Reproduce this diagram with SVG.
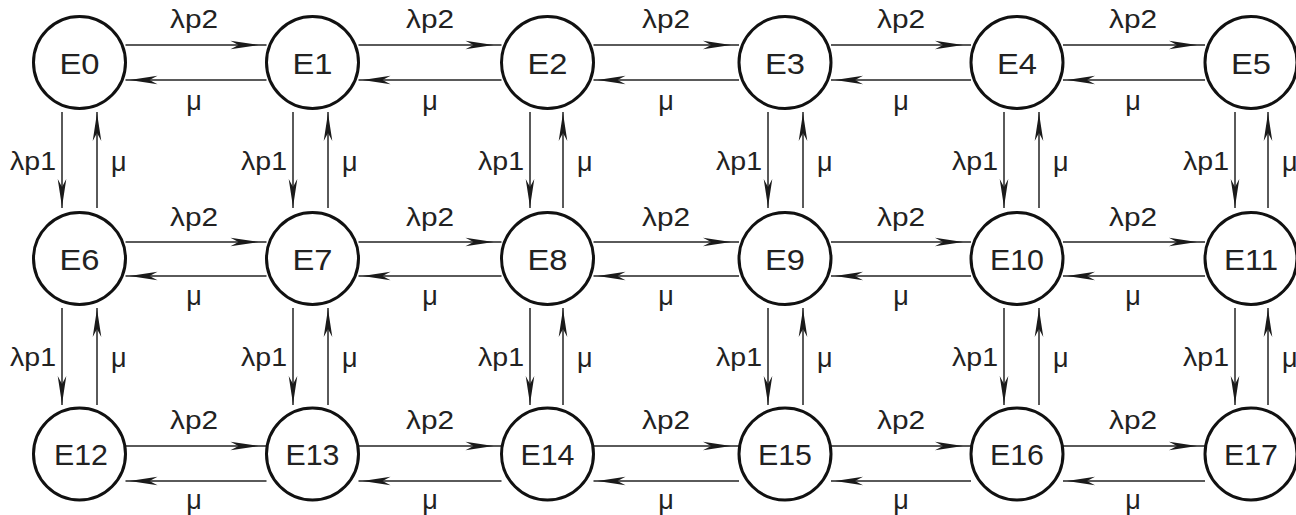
<svg xmlns="http://www.w3.org/2000/svg" width="1296" height="515" viewBox="0 0 1296 515">
<style>
.n circle{fill:#fff;stroke:#111;stroke-width:3}
.n text{font-family:"Liberation Sans",Arial,sans-serif;font-size:30px;fill:#222;text-anchor:middle}
.c path{fill:none;stroke:#5a5a5a;stroke-width:2;marker-mid:url(#ah)}
.l text{font-family:"Liberation Sans",Arial,sans-serif;font-size:25px;fill:#222}
.l .h{text-anchor:middle}
.l .e{text-anchor:end}
.l .m{font-size:27px}
</style>
<defs>
<marker id="ah" markerUnits="userSpaceOnUse" viewBox="-29 -5 30 10" markerWidth="30" markerHeight="10" refX="0" refY="0" orient="auto">
<path d="M0,0 L-28,-4.3 L-20,0 L-28,4.3 Z" fill="#1a1a1a" stroke="none"/>
</marker>
</defs>
<rect width="1296" height="515" fill="#fff"/>
<g id="connectors" class="c">
<path d="M125.5 45H258.5H266.5"/><path d="M266.5 80H129.5H125.5"/>
<path d="M358.5 45H493.5H501.5"/><path d="M501.5 80H362.5H358.5"/>
<path d="M593.5 45H731H739"/><path d="M739 80H597.5H593.5"/>
<path d="M831 45H963H971"/><path d="M971 80H835H831"/>
<path d="M1063 45H1197H1205"/><path d="M1205 80H1067H1063"/>
<path d="M125.5 242H258.5H266.5"/><path d="M266.5 276H129.5H125.5"/>
<path d="M358.5 242H493.5H501.5"/><path d="M501.5 276H362.5H358.5"/>
<path d="M593.5 242H731H739"/><path d="M739 276H597.5H593.5"/>
<path d="M831 242H963H971"/><path d="M971 276H835H831"/>
<path d="M1063 242H1197H1205"/><path d="M1205 276H1067H1063"/>
<path d="M125.5 446H258.5H266.5"/><path d="M266.5 481H129.5H125.5"/>
<path d="M358.5 446H493.5H501.5"/><path d="M501.5 481H362.5H358.5"/>
<path d="M593.5 446H731H739"/><path d="M739 481H597.5H593.5"/>
<path d="M831 446H963H971"/><path d="M971 481H835H831"/>
<path d="M1063 446H1197H1205"/><path d="M1205 481H1067H1063"/>
<path d="M62 112V207V208"/><path d="M97 208V113V112"/>
<path d="M293 112V207V208"/><path d="M328 208V113V112"/>
<path d="M530 112V207V208"/><path d="M563 208V113V112"/>
<path d="M768 112V207V208"/><path d="M803 208V113V112"/>
<path d="M1004 112V207V208"/><path d="M1039 208V113V112"/>
<path d="M1235 112V207V208"/><path d="M1268 208V113V112"/>
<path d="M62 308V404V405"/><path d="M97 405V309V308"/>
<path d="M293 308V404V405"/><path d="M328 405V309V308"/>
<path d="M530 308V404V405"/><path d="M563 405V309V308"/>
<path d="M768 308V404V405"/><path d="M803 405V309V308"/>
<path d="M1004 308V404V405"/><path d="M1039 405V309V308"/>
<path d="M1235 308V404V405"/><path d="M1268 405V309V308"/>
</g>
<g id="labels" class="l">
<text class="h" x="194" y="28" textLength="48" lengthAdjust="spacingAndGlyphs">λp2</text>
<text class="h" x="430" y="28" textLength="48" lengthAdjust="spacingAndGlyphs">λp2</text>
<text class="h" x="666" y="28" textLength="48" lengthAdjust="spacingAndGlyphs">λp2</text>
<text class="h" x="901" y="28" textLength="48" lengthAdjust="spacingAndGlyphs">λp2</text>
<text class="h" x="1133" y="28" textLength="48" lengthAdjust="spacingAndGlyphs">λp2</text>
<text class="h m" x="194" y="110">μ</text>
<text class="h m" x="430" y="110">μ</text>
<text class="h m" x="666" y="110">μ</text>
<text class="h m" x="901" y="110">μ</text>
<text class="h m" x="1133" y="110">μ</text>
<text class="h" x="194" y="226" textLength="48" lengthAdjust="spacingAndGlyphs">λp2</text>
<text class="h" x="430" y="226" textLength="48" lengthAdjust="spacingAndGlyphs">λp2</text>
<text class="h" x="666" y="226" textLength="48" lengthAdjust="spacingAndGlyphs">λp2</text>
<text class="h" x="901" y="226" textLength="48" lengthAdjust="spacingAndGlyphs">λp2</text>
<text class="h" x="1133" y="226" textLength="48" lengthAdjust="spacingAndGlyphs">λp2</text>
<text class="h m" x="194" y="305">μ</text>
<text class="h m" x="430" y="305">μ</text>
<text class="h m" x="666" y="305">μ</text>
<text class="h m" x="901" y="305">μ</text>
<text class="h m" x="1133" y="305">μ</text>
<text class="h" x="194" y="429" textLength="48" lengthAdjust="spacingAndGlyphs">λp2</text>
<text class="h" x="430" y="429" textLength="48" lengthAdjust="spacingAndGlyphs">λp2</text>
<text class="h" x="666" y="429" textLength="48" lengthAdjust="spacingAndGlyphs">λp2</text>
<text class="h" x="901" y="429" textLength="48" lengthAdjust="spacingAndGlyphs">λp2</text>
<text class="h" x="1133" y="429" textLength="48" lengthAdjust="spacingAndGlyphs">λp2</text>
<text class="h m" x="194" y="509">μ</text>
<text class="h m" x="430" y="509">μ</text>
<text class="h m" x="666" y="509">μ</text>
<text class="h m" x="901" y="509">μ</text>
<text class="h m" x="1133" y="509">μ</text>
<text class="e" x="56" y="170" textLength="46" lengthAdjust="spacingAndGlyphs">λp1</text>
<text class="e" x="287" y="170" textLength="46" lengthAdjust="spacingAndGlyphs">λp1</text>
<text class="e" x="524" y="170" textLength="46" lengthAdjust="spacingAndGlyphs">λp1</text>
<text class="e" x="762" y="170" textLength="46" lengthAdjust="spacingAndGlyphs">λp1</text>
<text class="e" x="998" y="170" textLength="46" lengthAdjust="spacingAndGlyphs">λp1</text>
<text class="e" x="1229" y="170" textLength="46" lengthAdjust="spacingAndGlyphs">λp1</text>
<text class="m" x="111" y="171">μ</text>
<text class="m" x="342" y="171">μ</text>
<text class="m" x="577" y="171">μ</text>
<text class="m" x="817" y="171">μ</text>
<text class="m" x="1053" y="171">μ</text>
<text class="m" x="1282" y="171">μ</text>
<text class="e" x="56" y="366" textLength="46" lengthAdjust="spacingAndGlyphs">λp1</text>
<text class="e" x="287" y="366" textLength="46" lengthAdjust="spacingAndGlyphs">λp1</text>
<text class="e" x="524" y="366" textLength="46" lengthAdjust="spacingAndGlyphs">λp1</text>
<text class="e" x="762" y="366" textLength="46" lengthAdjust="spacingAndGlyphs">λp1</text>
<text class="e" x="998" y="366" textLength="46" lengthAdjust="spacingAndGlyphs">λp1</text>
<text class="e" x="1229" y="366" textLength="46" lengthAdjust="spacingAndGlyphs">λp1</text>
<text class="m" x="111" y="367">μ</text>
<text class="m" x="342" y="367">μ</text>
<text class="m" x="577" y="367">μ</text>
<text class="m" x="817" y="367">μ</text>
<text class="m" x="1053" y="367">μ</text>
<text class="m" x="1282" y="367">μ</text>
</g>
<g id="E0" class="n"><circle cx="79.5" cy="62.5" r="46"/><text x="79.5" y="73.5" textLength="40" lengthAdjust="spacingAndGlyphs">E0</text></g>
<g id="E1" class="n"><circle cx="312.5" cy="62.5" r="46"/><text x="312.5" y="73.5" textLength="40" lengthAdjust="spacingAndGlyphs">E1</text></g>
<g id="E2" class="n"><circle cx="547.5" cy="62.5" r="46"/><text x="547.5" y="73.5" textLength="40" lengthAdjust="spacingAndGlyphs">E2</text></g>
<g id="E3" class="n"><circle cx="785" cy="62.5" r="46"/><text x="785" y="73.5" textLength="40" lengthAdjust="spacingAndGlyphs">E3</text></g>
<g id="E4" class="n"><circle cx="1017" cy="62.5" r="46"/><text x="1017" y="73.5" textLength="40" lengthAdjust="spacingAndGlyphs">E4</text></g>
<g id="E5" class="n"><circle cx="1251" cy="62.5" r="46"/><text x="1251" y="73.5" textLength="40" lengthAdjust="spacingAndGlyphs">E5</text></g>
<g id="E6" class="n"><circle cx="79.5" cy="258.5" r="46"/><text x="79.5" y="269.5" textLength="40" lengthAdjust="spacingAndGlyphs">E6</text></g>
<g id="E7" class="n"><circle cx="312.5" cy="258.5" r="46"/><text x="312.5" y="269.5" textLength="40" lengthAdjust="spacingAndGlyphs">E7</text></g>
<g id="E8" class="n"><circle cx="547.5" cy="258.5" r="46"/><text x="547.5" y="269.5" textLength="40" lengthAdjust="spacingAndGlyphs">E8</text></g>
<g id="E9" class="n"><circle cx="785" cy="258.5" r="46"/><text x="785" y="269.5" textLength="40" lengthAdjust="spacingAndGlyphs">E9</text></g>
<g id="E10" class="n"><circle cx="1017" cy="258.5" r="46"/><text x="1017" y="269.5" textLength="54" lengthAdjust="spacingAndGlyphs">E10</text></g>
<g id="E11" class="n"><circle cx="1251" cy="258.5" r="46"/><text x="1251" y="269.5" textLength="54" lengthAdjust="spacingAndGlyphs">E11</text></g>
<g id="E12" class="n"><circle cx="79.5" cy="454" r="46"/><text x="81" y="465" textLength="54" lengthAdjust="spacingAndGlyphs">E12</text></g>
<g id="E13" class="n"><circle cx="312.5" cy="454" r="46"/><text x="312.5" y="465" textLength="54" lengthAdjust="spacingAndGlyphs">E13</text></g>
<g id="E14" class="n"><circle cx="547.5" cy="454" r="46"/><text x="547.5" y="465" textLength="54" lengthAdjust="spacingAndGlyphs">E14</text></g>
<g id="E15" class="n"><circle cx="785" cy="454" r="46"/><text x="785" y="465" textLength="54" lengthAdjust="spacingAndGlyphs">E15</text></g>
<g id="E16" class="n"><circle cx="1017" cy="454" r="46"/><text x="1017" y="465" textLength="54" lengthAdjust="spacingAndGlyphs">E16</text></g>
<g id="E17" class="n"><circle cx="1251" cy="454" r="46"/><text x="1251" y="465" textLength="54" lengthAdjust="spacingAndGlyphs">E17</text></g>
</svg>
